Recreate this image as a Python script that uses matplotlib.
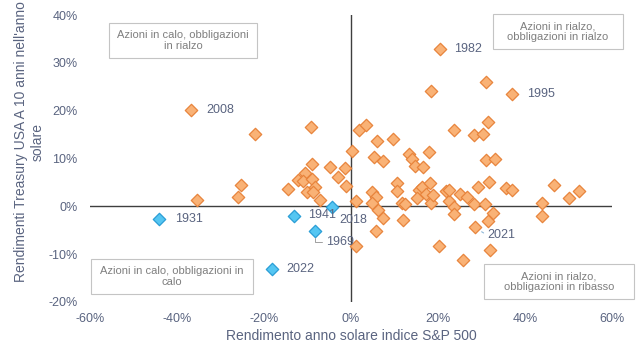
import matplotlib
matplotlib.use("Agg")
import matplotlib.pyplot as plt
from matplotlib.patches import Rectangle
from matplotlib.ticker import FuncFormatter

plt.rcParams['font.family'] = ['Liberation Sans', 'DejaVu Sans']

# S&P 500 calendar year return (%) vs 10y Treasury return (%)
# labeled orange points first
orange_years = ['2008', '1982', '1995', '2021']
sp_orange = [-36.8, 20.4, 37.1, 28.4,
             -22.0, -9.2, 0.3, 1.8, 3.5, 5.9, 9.7, 5.3, 7.4, -8.9,
             -4.9, -1.4, -3.1, -1.2, -10.6, -12.2, -11.0, -9.0, -8.3, -10.2,
             -8.7, -7.1, 1.1, -35.5, -25.3, -26.0, -14.5, 4.8, 5.7, 6.3,
             7.4, 1.2, 5.7, 12.0, 11.8, 12.4, 4.9, 20.3, 18.3, 22.5,
             23.7, 23.7, 28.3, 30.7, 32.6, 31.6, 43.8, 43.8, 31.9, 25.8,
             13.3, 14.1, 14.7, 16.6, 17.9, 23.7, 28.3, 30.3, 31.4, 31.0,
             33.0, 10.6, 10.6, 15.6, 16.4, 18.1, 15.2, 17.2, 18.9, 21.8,
             22.5, 25.0, 26.6, 29.2, 31.7, 35.6, 36.9, 46.7, 50.0, 52.4,
             18.3, 31.1]
tsy_orange = [20.2, 32.9, 23.5, -4.4,
              15.2, 16.6, 11.6, 16.0, 16.9, 13.6, 14.1, 10.3, 9.4, 8.8,
              8.2, 8.0, 6.1, 4.2, 6.9, 5.5, 5.3, 5.8, 4.1, 2.9,
              3.0, 1.3, 1.2, 1.3, 4.5, 1.9, 3.7, 3.0, 1.9, -0.8,
              -2.4, -8.3, -5.1, -2.8, 0.7, 0.5, 0.8, -8.3, 0.6, 1.2,
              -0.1, -1.7, 0.4, 0.4, -1.3, -3.1, 0.6, -2.1, -9.2, -11.3,
              11.0, 9.9, 8.4, 8.3, 11.3, 15.9, 15.0, 15.2, 17.6, 9.6,
              9.8, 4.8, 3.3, 3.5, 4.1, 4.8, 1.8, 2.6, 2.3, 3.3,
              3.5, 2.5, 2.0, 4.1, 5.1, 3.9, 3.5, 4.4, 1.8, 3.3,
              24.2, 25.9]

blue_years = ['1931', '1941', '1969', '2018', '2022']
sp_blue = [-44.1, -13.0, -8.3, -4.3, -18.2]
tsy_blue = [-2.7, -2.1, -5.2, -0.1, -13.1]

x_ticks = [-60, -40, -20, 0, 20, 40, 60]
y_ticks = [-20, -10, 0, 10, 20, 30, 40]

quad_texts = ["Azioni in calo, obbligazioni\nin rialzo",
              "Azioni in rialzo,\nobbligazioni in rialzo",
              "Azioni in calo, obbligazioni in\ncalo",
              "Azioni in rialzo,\nobbligazioni in ribasso"]

W, H = 640, 361
fig = plt.figure(figsize=(W / 100, H / 100), dpi=100)
ax = fig.add_axes([90 / W, 1 - 302 / H, 522 / W, 287 / H])

txt_col = '#5a6480'
ax.set_xlim(-60, 60)
ax.set_ylim(-20, 40)
for s in ax.spines.values():
    s.set_visible(False)
ax.axhline(0, color='#3f3f3f', lw=1, zorder=1)
ax.axvline(0, color='#3f3f3f', lw=1, zorder=1)
ax.set_xticks(x_ticks)
ax.set_yticks(y_ticks)
fmt = FuncFormatter(lambda v, p: '%d%%' % v)
ax.xaxis.set_major_formatter(fmt)
ax.yaxis.set_major_formatter(fmt)
ax.tick_params(length=0, labelsize=9, colors=txt_col)
ax.tick_params(axis='y', pad=9)
ax.tick_params(axis='x', pad=8)

ax.scatter(sp_orange, tsy_orange, marker='D', s=40, c='#f9b276',
           edgecolors='#e8843c', linewidths=0.9, zorder=3)
ax.scatter(sp_blue, tsy_blue, marker='D', s=40, c='#55c6f2',
           edgecolors='#2a9ed6', linewidths=0.9, zorder=3)

# label offsets in pixels (dx, dy)
offs = {'2008': (15, 0), '1982': (14, 0), '1995': (15, 0), '2021': (13, -8),
        '1931': (16, 0), '1941': (14, 1), '1969': (11, -11), '2018': (7, -13),
        '2022': (14, 0)}
pts = list(zip(orange_years, sp_orange, tsy_orange)) + list(zip(blue_years, sp_blue, tsy_blue))
for yr, xv, yv in pts:
    dx, dy = offs[yr]
    kw = {}
    if yr == '1969':
        kw['arrowprops'] = dict(arrowstyle='-', color='#a0a0a0', lw=0.7,
                                connectionstyle='angle,angleA=180,angleB=90,rad=0',
                                shrinkA=1, shrinkB=5, relpos=(0, 0.5))
    if yr == '2021':
        kw['arrowprops'] = dict(arrowstyle='-', color='#8fb8d8', lw=0.8,
                                shrinkA=1, shrinkB=6, relpos=(0, 0.5))
    ax.annotate(yr, (xv, yv), xytext=(dx * 0.72, dy * 0.72), textcoords='offset points',
                ha='left', va='center', fontsize=9, color=txt_col, zorder=4, **kw)

# quadrant boxes in pixel coords
boxes = [(109, 23, 148, 35), (493, 14, 130, 35), (91, 259, 162, 35), (484, 264, 150, 35)]
for (bx, by, bw, bh), t in zip(boxes, quad_texts):
    fig.add_artist(Rectangle((bx / W, 1 - (by + bh) / H), bw / W, bh / H,
                             transform=fig.transFigure, fill=True, fc='white',
                             ec='#c4c4c4', lw=0.8, zorder=5))
    fig.text((bx + bw / 2) / W, 1 - (by + bh / 2) / H, t, ha='center', va='center',
             fontsize=8, color='#7f7f7f', linespacing=1.1, zorder=6)

fig.text(29 / W, 1 - 142 / H, "Rendimenti Treasury USA A 10 anni nell'anno\nsolare",
         rotation=90, ha='center', va='center', multialignment='center',
         fontsize=10, color=txt_col, linespacing=1.25)
fig.text(351 / W, 1 - 336 / H, "Rendimento anno solare indice S&P 500",
         ha='center', va='center', fontsize=10, color=txt_col)

fig.savefig('out.png', dpi=100)
